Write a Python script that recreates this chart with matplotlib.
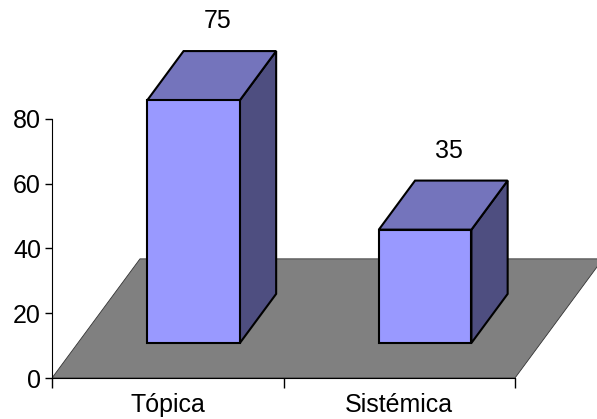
import matplotlib.pyplot as plt
from matplotlib.patches import Polygon

plt.rcParams['font.family'] = ['Liberation Sans', 'DejaVu Sans']

categories = ['Tópica', 'Sistémica']
values = [75, 35]

# 3D look: depth offset of the floor in data units
DX = 0.38
DY = 36.8
# bars sit in the middle of the floor depth
D0, D1 = 0.294, 0.706
bar_w = 0.4

front_col = '#9999FF'
top_col = '#7474BC'
side_col = '#4E4E80'
floor_col = '#808080'

fig = plt.figure(figsize=(5.97, 4.19), dpi=100)
ax = fig.add_axes([52/597, 41/419, 545/597, 378/419])
ax.set_xlim(0, 545/231.5)
ax.set_ylim(0, 378/3.2375)

# floor
floor = Polygon([(0, 0), (2, 0), (2 + DX, DY), (DX, DY)], closed=True,
                facecolor=floor_col, edgecolor='#333333', lw=0.6, zorder=1)
ax.add_patch(floor)

for i, v in enumerate(values):
    x0 = i + 0.5 - bar_w / 2
    x1 = i + 0.5 + bar_w / 2
    fx0, fx1 = x0 + D0*DX, x1 + D0*DX
    fy0 = D0 * DY
    bx = (D1 - D0) * DX
    by = (D1 - D0) * DY
    front = [(fx0, fy0), (fx1, fy0), (fx1, fy0 + v), (fx0, fy0 + v)]
    top = [(fx0, fy0 + v), (fx1, fy0 + v), (fx1 + bx, fy0 + v + by), (fx0 + bx, fy0 + v + by)]
    side = [(fx1, fy0), (fx1 + bx, fy0 + by), (fx1 + bx, fy0 + v + by), (fx1, fy0 + v)]
    for pts, c in [(side, side_col), (top, top_col), (front, front_col)]:
        ax.add_patch(Polygon(pts, closed=True, facecolor=c, edgecolor='black',
                             lw=1.5, joinstyle='miter', zorder=2 + i))
    # value label above the middle of the top face
    mx = i + 0.5 + 0.5*DX
    my = 0.5*DY + v
    ax.annotate(str(v), (mx, my), xytext=(4.3, 39), textcoords='offset points',
                ha='center', va='center', fontsize=18, zorder=5)

for s in ['top', 'right']:
    ax.spines[s].set_visible(False)
ax.spines['left'].set_bounds(0, 80)
ax.spines['bottom'].set_bounds(0, 2)
ax.spines['left'].set_zorder(6)
ax.spines['bottom'].set_zorder(6)

ax.set_yticks([0, 20, 40, 60, 80])
ax.tick_params(axis='y', direction='out', length=5, width=1, labelsize=18, pad=3)
ax.set_xticks([0, 1, 2])
ax.set_xticklabels([])
ax.tick_params(axis='x', which='major', direction='out', length=7, width=1)
ax.set_xticks([0.5, 1.5], minor=True)
ax.set_xticklabels(categories, minor=True, fontsize=18)
ax.tick_params(axis='x', which='minor', length=0, pad=11)

fig.savefig('out.png', dpi=100)
